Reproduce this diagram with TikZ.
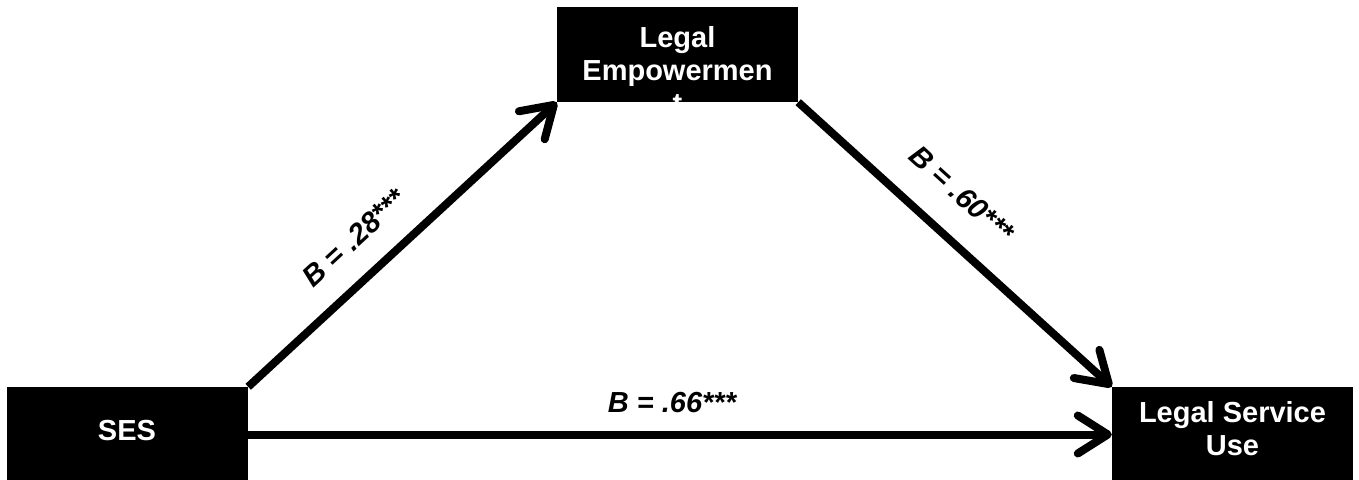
\documentclass[tikz,border=0pt]{standalone}
\usepackage{fontspec}
\setmainfont{Liberation Sans}
\usetikzlibrary{arrows.meta}
\tikzset{
  box/.style={fill=black, draw=none, minimum width=241pt, minimum height=95pt, inner sep=0pt},
  boxtext/.style={text=white, font=\fontsize{29}{33}\selectfont\bfseries, align=center, inner sep=0pt},
  lbl/.style={font=\fontsize{29}{33}\selectfont\bfseries\itshape, inner sep=0pt},
  conn/.style={line width=8pt, -{Straight Barb[length=30pt,width=38pt,round]}},
}
\begin{document}
\begin{tikzpicture}[x=1pt,y=-1pt]
\fill[white] (0,0) rectangle (1359,479);
\useasboundingbox (0,0) rectangle (1359,479);
\node[box] (le) at (677.5,54.5) {};
\node[box] (ses) at (127.5,434.5) {};
\node[box] (lsu) at (1232.5,434.5) {};
\node[boxtext, anchor=base] (letxt) at (677.5,113) {Legal\\Empowermen\\t};
\node[boxtext, anchor=base] (sestxt) at (127,440) {SES};
\node[boxtext, anchor=base] (lsutxt) at (1232.5,455) {Legal Service\\Use};
\node[lbl, anchor=base] (l3) at (672,412) {B = .66***};
\node[lbl, rotate=42.7] (l1) at (354,238) {B = .28***};
\node[lbl, rotate=-42.2] (l2) at (962,194) {B = .60***};
\draw[conn] (ses.north east) -- (le.south west);
\draw[conn] (le.south east) -- (lsu.north west);
\draw[conn] (ses.east) -- (lsu.west);
\end{tikzpicture}
\end{document}
